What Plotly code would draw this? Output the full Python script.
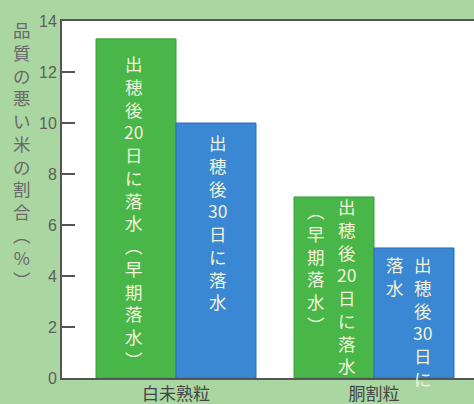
import plotly.graph_objects as go

# ---- data ----
categories = ["白未熟粒", "胴割粒"]
early_drain = [13.3, 7.1]   # 出穂後20日に落水（早期落水）
late_drain = [10.0, 5.1]    # 出穂後30日に落水
y_ticks = [0, 2, 4, 6, 8, 10, 12, 14]
y_title = "品質の悪い米の割合︵%︶"

# vertical labels inside bars: (series, category index, column text)
bar_labels = [
    ("early", 0, "出穂後20日に落水︵早期落水︶"),
    ("late", 0, "出穂後30日に落水"),
    ("early", 1, "出穂後20日に落水"),
    ("early", 1, "︵早期落水︶"),
    ("late", 1, "出穂後30日に"),
    ("late", 1, "落水"),
]
# style / placement of those labels (px shifts)
label_shift = [(-3, -10), (1, -5), (12, 5), (-18, 1), (8, -2), (-19, -2)]

GREEN = "#49b649"
BLUE = "#3a87d3"
PAPER = "#a9d6a1"
TEXT_IN = "#f0f3da"
W = 0.404  # bar width in category units

xs = list(range(len(categories)))
x_early = [x - W / 2 for x in xs]
x_late = [x + W / 2 for x in xs]

fig = go.Figure()
fig.add_trace(go.Bar(x=x_early, y=early_drain, width=W, marker=dict(color=GREEN, line=dict(color="#3a9e3c", width=1)), hoverinfo="skip"))
fig.add_trace(go.Bar(x=x_late, y=late_drain, width=W, marker=dict(color=BLUE, line=dict(color="#2c6fb8", width=1)), hoverinfo="skip"))


def vert(s):
    out = []
    i = 0
    while i < len(s):
        if s[i].isdigit():
            j = i
            while j < len(s) and s[j].isdigit():
                j += 1
            out.append(s[i:j])
            i = j
        else:
            out.append(s[i])
            i += 1
    return "<br>".join(out)


annotations = []
for (series, ci, txt), (dx, dy) in zip(bar_labels, label_shift):
    if series == "early":
        xv, yv = x_early[ci], early_drain[ci]
    else:
        xv, yv = x_late[ci], late_drain[ci]
    annotations.append(dict(
        x=xv, y=yv, xref="x", yref="y", text=vert(txt), showarrow=False,
        xanchor="center", yanchor="top", xshift=dx, yshift=dy, align="center",
        font=dict(family="Noto Sans CJK JP", size=17.5, color=TEXT_IN),
    ))

annotations.append(dict(
    x=-0.097, y=0.625, xref="paper", yref="paper", text=vert(y_title), showarrow=False,
    xanchor="center", yanchor="middle", align="center",
    font=dict(family="Noto Sans CJK JP", size=17.5, color="#6a6a6a"),
))

fig.update_layout(
    width=474, height=404,
    margin=dict(l=62, r=0, t=21, b=26),
    paper_bgcolor=PAPER, plot_bgcolor="white",
    showlegend=False, barmode="overlay",
    annotations=annotations,
    xaxis=dict(
        range=[-0.5758, 1.505], tickvals=xs, ticktext=categories,
        showgrid=False, zeroline=False, showline=True, linecolor="#555", linewidth=2,
        mirror=True, ticks="", ticklen=0,
        tickfont=dict(family="Noto Sans CJK JP", size=17, color="#444"),
        fixedrange=True, automargin=False,
    ),
    yaxis=dict(
        range=[0, 14], tickvals=y_ticks, showgrid=False, zeroline=False,
        showline=True, linecolor="#555", linewidth=2,
        ticks="inside", ticklen=13, tickwidth=2, tickcolor="#555",
        tickfont=dict(family="Liberation Sans", size=16, color="#5e5e5e"),
        fixedrange=True, automargin=False,
    ),
)

fig.write_html(
    "out.html",
    config={"displayModeBar": False},
    post_script="document.body.style.margin='0';document.body.style.overflow='hidden';",
)
